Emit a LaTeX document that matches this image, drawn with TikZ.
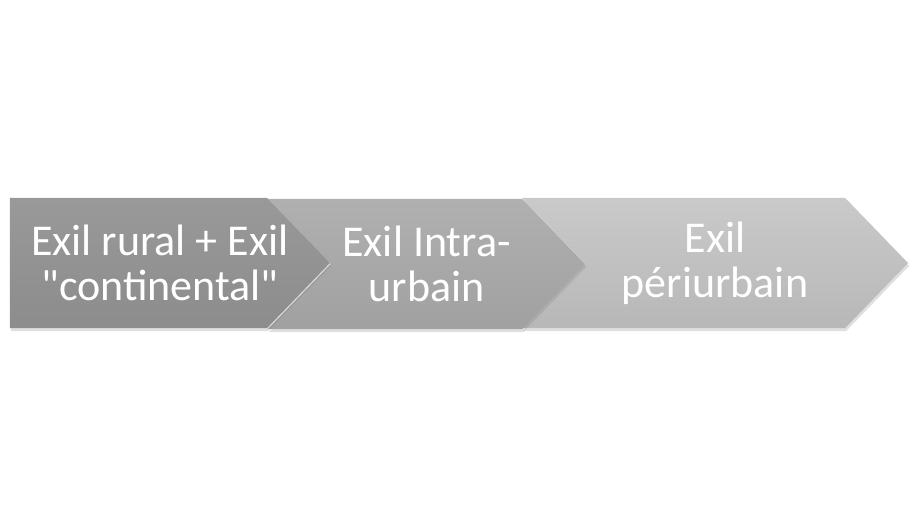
\documentclass[tikz,border=0pt]{standalone}
\usepackage{fontspec}
\setmainfont{Carlito}
\usetikzlibrary{shapes.symbols,shadows}

\tikzstyle{caption} = [text=white, align=center, font=\fontsize{44}{45}\selectfont]
\tikzstyle{stage} = [signal, signal to=east, signal pointer angle=92, minimum height=130pt, inner sep=0pt, caption, drop shadow={opacity=0.25, shadow xshift=1pt, shadow yshift=-3pt}]
\tikzstyle{inner stage} = [stage, signal from=west]

\begin{document}
\begin{tikzpicture}
  \useasboundingbox (0pt,0pt) rectangle (920pt,-526pt);

  \node (f3) [inner stage, minimum width=386pt, top color=gray!42, bottom color=gray!56] at (715pt,-263pt) {Exil\\périurbain};
  \node (f2) [inner stage, minimum width=317pt, top color=gray!62, bottom color=gray!74] at (426.5pt,-264pt) {Exil Intra-\\urbain};
  \node (f1) [stage, minimum width=320pt, top color=gray!80, bottom color=gray!90] at (138.5pt,-263pt) {};
  \node (f1 text) [caption] at (160pt,-263pt) {Exil rural + Exil\\\textquotedbl continental\textquotedbl};

\end{tikzpicture}
\end{document}
